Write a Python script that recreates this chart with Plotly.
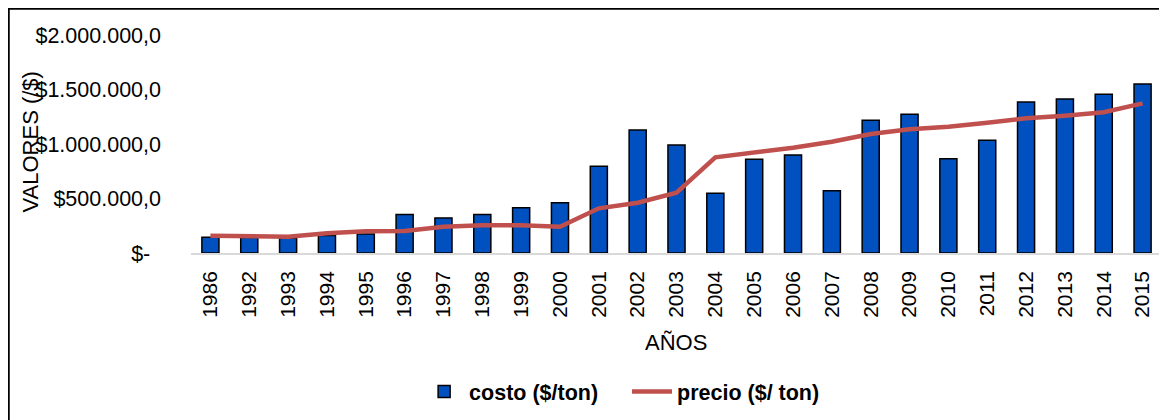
import plotly.graph_objects as go

years = ["1986", "1992", "1993", "1994", "1995", "1996", "1997", "1998", "1999",
         "2000", "2001", "2002", "2003", "2004", "2005", "2006", "2007", "2008",
         "2009", "2010", "2011", "2012", "2013", "2014", "2015"]

costo = [145000, 142000, 138000, 160000, 175000, 353000, 322000, 353000, 416000,
         460000, 795000, 1128000, 991000, 548000, 860000, 899000, 572000, 1217000,
         1272000, 865000, 1034000, 1385000, 1413000, 1456000, 1550000]

precio = [159000, 157000, 150000, 181000, 199000, 202000, 241000, 254000, 254000,
          241000, 410000, 461000, 553000, 878000, 920000, 966000, 1021000, 1092000,
          1135000, 1159000, 1195000, 1236000, 1260000, 1291000, 1373000]

y_ticks = [0, 500000, 1000000, 1500000, 2000000]
y_labels = ["$-\u2002", "$500.000,0", "$1.000.000,0", "$1.500.000,0", "$2.000.000,0"]

FONT = "Liberation Sans"

fig = go.Figure()
fig.add_trace(go.Bar(x=years, y=costo, name="costo ($/ton)\u00a0\u00a0\u00a0\u00a0", width=0.44,
                     marker=dict(color="#0050C0", line=dict(color="black", width=1.5))))
fig.add_trace(go.Scatter(x=years, y=precio, name="precio ($/ ton)", mode="lines",
                         line=dict(color="#C0504D", width=4.5)))

# page body has an 8px margin, so the figure is laid out 8px up/left
fig.update_layout(
    width=1159, height=412,
    margin=dict(l=183, r=5, t=27, b=167),
    plot_bgcolor="white", paper_bgcolor="white",
    font=dict(family=FONT, color="black"),
    showlegend=True,
    legend=dict(orientation="h", xanchor="center", x=0.444, yanchor="middle", y=-0.636,
                font=dict(family=FONT, size=21.5, weight="bold"), itemwidth=40,
                traceorder="normal"),
    xaxis=dict(type="category", tickangle=-90, showgrid=False,
               showline=True, linecolor="#D9D9D9", linewidth=1.5,
               tickfont=dict(size=21), ticks="", ticklabelstandoff=8),
    yaxis=dict(range=[0, 2000000], tickvals=y_ticks, ticktext=y_labels,
               showgrid=False, zeroline=False, showline=False, ticks="",
               tickfont=dict(size=21.5), ticklabelstandoff=29),
    annotations=[
        dict(text="VALORES (/$)", textangle=-90, xref="paper", yref="paper",
             x=-0.1658, y=0.507, xanchor="center", yanchor="middle", showarrow=False,
             font=dict(size=22)),
        dict(text="AÑOS", xref="paper", yref="paper", x=0.4995, y=-0.4106,
             xanchor="center", yanchor="middle", showarrow=False, font=dict(size=22)),
    ],
    shapes=[
        dict(type="rect", xref="paper", yref="paper", x0=-0.1877, y0=-1, x1=1.1, y1=1.1206,
             line=dict(color="black", width=2), layer="below"),
    ],
)

fig.write_html("out.html")
